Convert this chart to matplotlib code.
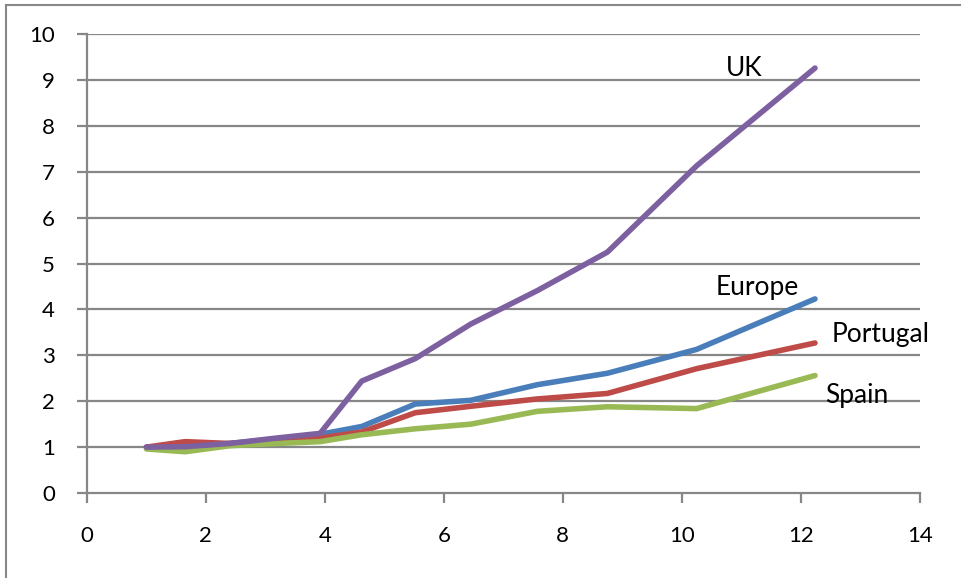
import matplotlib
matplotlib.use("Agg")
import matplotlib.pyplot as plt
from matplotlib.lines import Line2D

# Growth index by region
x = [1, 1.65, 2.4, 3.2, 3.92, 4.62, 5.52, 6.45, 7.57, 8.75, 10.25, 12.24]
uk = [1.0, 1.01, 1.08, 1.2, 1.3, 2.44, 2.93, 3.68, 4.41, 5.25, 7.13, 9.26]
europe = [1.0, 1.02, 1.08, 1.18, 1.28, 1.45, 1.94, 2.02, 2.36, 2.61, 3.13, 4.23]
portugal = [1.0, 1.12, 1.08, 1.13, 1.2, 1.33, 1.75, 1.89, 2.05, 2.17, 2.71, 3.27]
spain = [0.96, 0.9, 1.03, 1.08, 1.12, 1.27, 1.4, 1.5, 1.78, 1.88, 1.84, 2.56]

series_names = ["Europe", "Portugal", "Spain", "UK"]
series_colors = ["#4A7EBB", "#BE4B48", "#98B954", "#7D60A0"]
x_ticks = [0, 2, 4, 6, 8, 10, 12, 14]
y_ticks = [0, 1, 2, 3, 4, 5, 6, 7, 8, 9, 10]

plt.rcParams["font.family"] = ["Lato", "DejaVu Sans"]

fig = plt.figure(figsize=(9.61, 5.78), dpi=100)
ax = fig.add_axes([0.0905, 0.147, 0.8665, 0.794])

grid_col = "#878787"
for yv in y_ticks[1:]:
    ax.axhline(yv, color=grid_col, lw=1.6, zorder=1)

for name, vals, col in zip(series_names, [europe, portugal, spain, uk], series_colors):
    ax.plot(x, vals, color=col, lw=4.0, solid_capstyle="round",
            solid_joinstyle="round", zorder=3)

ax.set_xlim(0, 14)
ax.set_ylim(0, 10)
ax.set_xticks(x_ticks)
ax.set_yticks(y_ticks)
ax.set_xticklabels([str(v) for v in x_ticks])
ax.set_yticklabels([str(v) for v in y_ticks])
ax.tick_params(axis="both", labelsize=16, color=grid_col, width=1.6, length=7,
               direction="out")
ax.tick_params(axis="x", pad=17)
ax.tick_params(axis="y", pad=16)
for side in ["top", "right"]:
    ax.spines[side].set_visible(False)
for side in ["left", "bottom"]:
    ax.spines[side].set_color(grid_col)
    ax.spines[side].set_linewidth(1.6)

# series labels
ax.text(11.05, 9.25, "UK", fontsize=19, ha="center", va="center")
ax.text(11.27, 4.47, "Europe", fontsize=19, ha="center", va="center")
ax.text(13.35, 3.46, "Portugal", fontsize=19, ha="center", va="center")
ax.text(12.95, 2.13, "Spain", fontsize=19, ha="center", va="center")

# chart frame
fig.add_artist(Line2D([0.0065, 1.0], [0.991, 0.991], transform=fig.transFigure,
                      color="#888888", lw=1.5))
fig.add_artist(Line2D([0.0065, 0.0065], [0.0, 0.991], transform=fig.transFigure,
                      color="#888888", lw=1.5))

fig.savefig("out.png", dpi=100)
